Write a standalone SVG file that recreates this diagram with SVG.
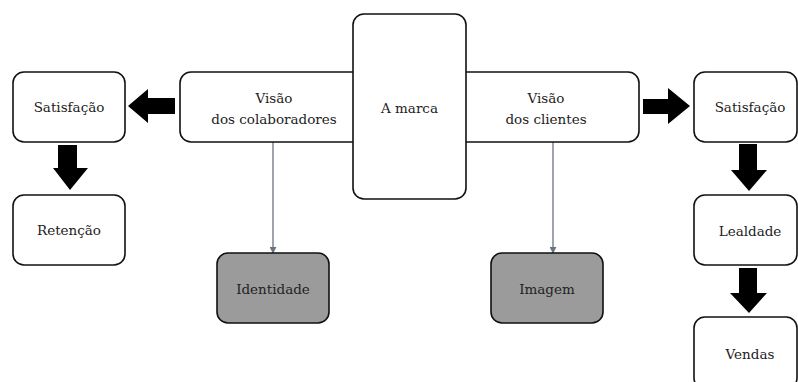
<svg xmlns="http://www.w3.org/2000/svg" width="798" height="382" viewBox="0 0 798 382">
<style>
.box{fill:#fff;stroke:#111;stroke-width:1.6}
.gray{fill:#9b9b9b;stroke:#111;stroke-width:1.6}
.t{font-family:"DejaVu Serif","Liberation Serif",serif;font-size:13.5px;fill:#222;text-anchor:middle}
.big{fill:#000}
.link{stroke:#6b7280;stroke-width:1.3;fill:none;marker-end:url(#ah)}
</style>
<defs>
<marker id="ah" viewBox="0 0 10 10" refX="9" refY="5" markerWidth="7" markerHeight="7" markerUnits="userSpaceOnUse" orient="auto">
<path d="M0,0 L10,5 L0,10 z" fill="#6b7280"/>
</marker>
</defs>
<rect width="798" height="382" fill="#fff"/>
<g id="connectors">
<path class="link" d="M273,142 V253"/>
<path class="link" d="M553,142 V253"/>
<polygon class="big" points="175,98 148,98 148,89 128,106 148,123 148,114 175,114"/>
<polygon class="big" points="58,145 77,145 77,168 88,168 70,190 53,168 58,168"/>
<polygon class="big" points="643,99 668,99 668,88 690,106 668,124 668,114 643,114"/>
<polygon class="big" points="739,144 757,144 757,170 767,170 749,191 731,170 739,170"/>
<polygon class="big" points="739,268 757,268 757,293 767,293 749,313 730,293 739,293"/>
</g>
<g id="visao-colaboradores">
<rect class="box" x="180" y="72" width="185" height="70" rx="11"/>
<text class="t" x="274" y="103">Visão</text>
<text class="t" x="274" y="124">dos colaboradores</text>
</g>
<g id="visao-clientes">
<rect class="box" x="455" y="72" width="184" height="70" rx="11"/>
<text class="t" x="546" y="103">Visão</text>
<text class="t" x="546" y="124">dos clientes</text>
</g>
<g id="marca">
<rect class="box" x="353" y="14" width="113" height="185" rx="11"/>
<text class="t" x="409.5" y="113">A marca</text>
</g>
<g id="satisfacao-esq">
<rect class="box" x="13" y="72" width="112" height="70" rx="11"/>
<text class="t" x="69" y="112">Satisfação</text>
</g>
<g id="retencao">
<rect class="box" x="13" y="195" width="112" height="70" rx="11"/>
<text class="t" x="69" y="235">Retenção</text>
</g>
<g id="identidade">
<rect class="gray" x="217" y="253" width="112" height="70" rx="11"/>
<text class="t" x="273" y="294">Identidade</text>
</g>
<g id="imagem">
<rect class="gray" x="491" y="253" width="112" height="70" rx="11"/>
<text class="t" x="547" y="294">Imagem</text>
</g>
<g id="satisfacao-dir">
<rect class="box" x="694" y="72" width="103" height="70" rx="11"/>
<text class="t" x="750" y="112">Satisfação</text>
</g>
<g id="lealdade">
<rect class="box" x="694" y="195" width="103" height="70" rx="11"/>
<text class="t" x="750" y="236">Lealdade</text>
</g>
<g id="vendas">
<rect class="box" x="694" y="317" width="103" height="72" rx="11"/>
<text class="t" x="750" y="359">Vendas</text>
</g>
</svg>
